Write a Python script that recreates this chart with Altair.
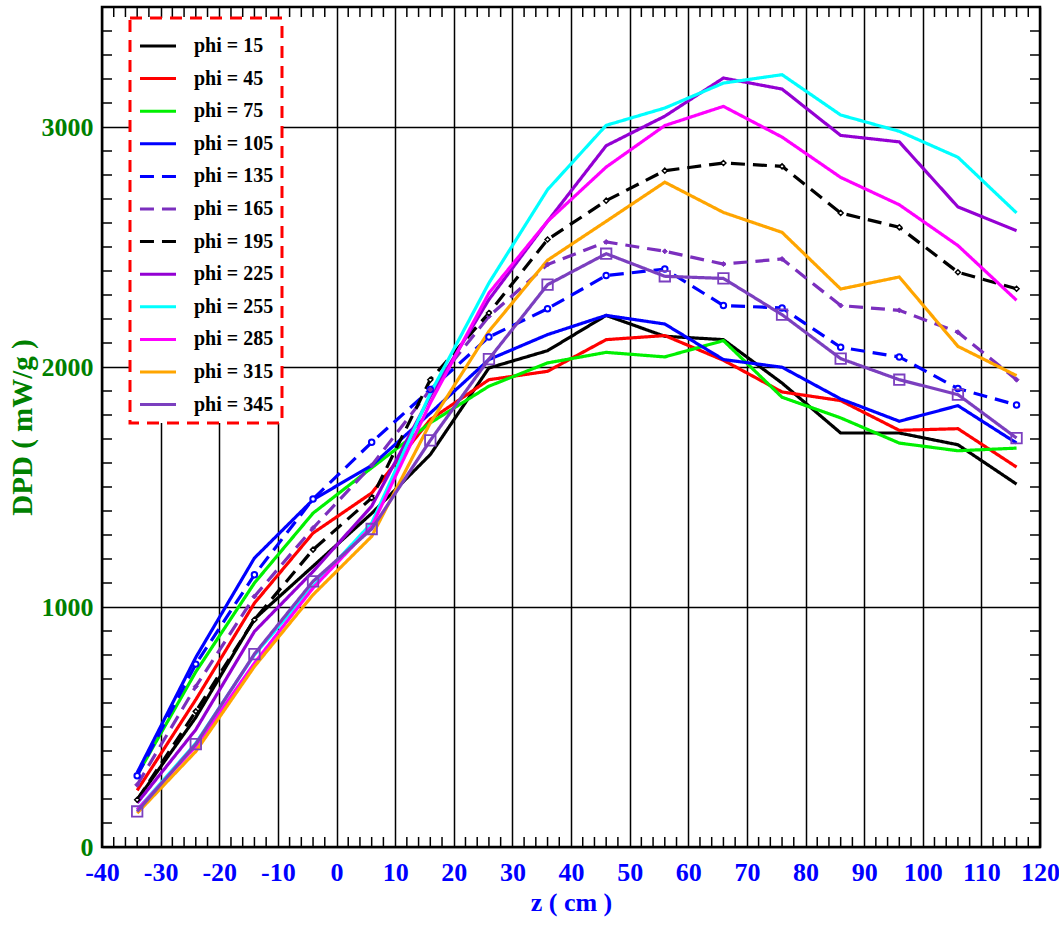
import altair as alt
import pandas as pd

# ---- data ----
z_cm = [-34, -24, -14, -4, 6, 16, 26, 36, 46, 56, 66, 76, 86, 96, 106, 116]

phi_15  = [197, 540, 950, 1170, 1390, 1635, 1996, 2068, 2215, 2128, 2114, 1933, 1725, 1725, 1676, 1512]
phi_45  = [236, 614, 1016, 1308, 1475, 1781, 1947, 1982, 2114, 2131, 2028, 1896, 1860, 1736, 1743, 1583]
phi_75  = [300, 730, 1100, 1391, 1580, 1767, 1920, 2017, 2061, 2042, 2110, 1874, 1788, 1683, 1651, 1662]
phi_105 = [310, 790, 1204, 1447, 1590, 1808, 2031, 2135, 2215, 2179, 2031, 1999, 1867, 1774, 1839, 1683]
phi_135 = [297, 762, 1134, 1450, 1686, 1906, 2125, 2243, 2381, 2408, 2256, 2246, 2082, 2042, 1910, 1842]
phi_165 = [259, 669, 1044, 1329, 1590, 1906, 2211, 2427, 2521, 2482, 2429, 2450, 2256, 2236, 2145, 1947]
phi_195 = [197, 565, 947, 1239, 1454, 1947, 2225, 2531, 2693, 2818, 2850, 2836, 2642, 2582, 2395, 2326]
phi_225 = [183, 489, 898, 1148, 1420, 1878, 2281, 2607, 2922, 3045, 3204, 3158, 2965, 2938, 2667, 2568]
phi_255 = [155, 433, 801, 1086, 1350, 1890, 2350, 2739, 3007, 3079, 3183, 3218, 3050, 2982, 2874, 2642]
phi_285 = [155, 419, 766, 1079, 1336, 1850, 2308, 2607, 2833, 3006, 3086, 2958, 2790, 2676, 2506, 2278]
phi_315 = [141, 398, 752, 1051, 1294, 1767, 2149, 2445, 2607, 2770, 2644, 2561, 2325, 2375, 2086, 1964]
phi_345 = [148, 429, 804, 1107, 1325, 1694, 2033, 2343, 2472, 2378, 2369, 2218, 2035, 1947, 1885, 1704]

series_names = ["phi = 15", "phi = 45", "phi = 75", "phi = 105", "phi = 135", "phi = 165",
                "phi = 195", "phi = 225", "phi = 255", "phi = 285", "phi = 315", "phi = 345"]
series_values = [phi_15, phi_45, phi_75, phi_105, phi_135, phi_165,
                 phi_195, phi_225, phi_255, phi_285, phi_315, phi_345]
series_colors = ["#000000", "#ff0000", "#00f000", "#0000ff", "#0000ff", "#7b2fbe",
                 "#000000", "#9400d3", "#00ffff", "#ff00ff", "#ffa500", "#7b3fbf"]
SOLID = [1, 0]
DASH = [14, 8]
series_dashes = [SOLID, SOLID, SOLID, SOLID, DASH, DASH, DASH, SOLID, SOLID, SOLID, SOLID, SOLID]

x_major = list(range(-40, 121, 10))
x_minor = [v for v in range(-38, 120, 2) if v % 10 != 0]
y_major = [0, 1000, 2000, 3000]
y_minor = [v for v in range(100, 3500, 100) if v % 1000 != 0]

# ---- build table ----
rows = []
for k, (name, vals) in enumerate(zip(series_names, series_values)):
    for zz, v in zip(z_cm, vals):
        rows.append({"z": zz, "dpd": v, "series": name, "k": k})
df = pd.DataFrame(rows)

W, H = 938, 840
FONT = "Liberation Serif"
xs = alt.Scale(domain=[-40, 120], nice=False, zero=False)
ys = alt.Scale(domain=[0, 3500], nice=False, zero=True)

x_axis = alt.Axis(
    values=x_major, title="z ( cm )", labelFont=FONT, labelFontWeight="bold",
    labelFontSize=26, labelColor="#0000ff", ticks=False, domain=False,
    grid=True, gridColor="black", gridWidth=1.5, labelPadding=12,
    labelFlush=False, labelOverlap=False, labelExpr="'' + datum.value",
    titleFont=FONT, titleFontWeight="bold", titleFontSize=26,
    titleColor="#0000ff", titlePadding=4)
y_axis = alt.Axis(
    values=y_major, title="DPD ( mW/g )", labelFont=FONT, labelFontWeight="bold",
    labelFontSize=26, labelColor="#008000", ticks=False, domain=False,
    grid=True, gridColor="black", gridWidth=1.5, labelPadding=9,
    labelFlush=False, labelOverlap=False, labelExpr="'' + datum.value",
    titleFont=FONT, titleFontWeight="bold", titleFontSize=29,
    titleColor="#008000", titlePadding=4)

legend = alt.Legend(title=None, orient="none", legendX=28, legendY=11)

lines = alt.Chart(df).mark_line(strokeWidth=3.2).encode(
    x=alt.X("z:Q", scale=xs, axis=x_axis),
    y=alt.Y("dpd:Q", scale=ys, axis=y_axis),
    color=alt.Color("series:N", scale=alt.Scale(domain=series_names, range=series_colors),
                    legend=legend),
    strokeDash=alt.StrokeDash("series:N", scale=alt.Scale(domain=series_names, range=series_dashes),
                              legend=legend),
    order=alt.Order("z:Q"),
)


def marker_layer(name, color, shape, size, filled, fill, sw):
    d = df[df["series"] == name]
    kw = dict(shape=shape, size=size, color=color, strokeWidth=sw, opacity=1)
    if filled:
        kw.update(filled=True, fill=fill, stroke=color)
    else:
        kw.update(filled=False)
    return alt.Chart(d).mark_point(**kw).encode(
        x=alt.X("z:Q", scale=xs, axis=x_axis),
        y=alt.Y("dpd:Q", scale=ys, axis=y_axis),
    )


m135 = marker_layer("phi = 135", "#0000ff", "circle", 30, True, "white", 2)
m165 = marker_layer("phi = 165", "#7b2fbe", "diamond", 25, True, "#7b2fbe", 1)
m195 = marker_layer("phi = 195", "#000000", "diamond", 25, True, "white", 1.5)
m345 = marker_layer("phi = 345", "#7b3fbf", "square", 110, False, None, 1.8)

xt = pd.DataFrame({"z": x_minor})
yt = pd.DataFrame({"dpd": y_minor})
TL = 10
tick_style = dict(color="black", strokeWidth=1.5)
t_bottom = alt.Chart(xt).mark_rule(**tick_style).encode(
    x=alt.X("z:Q", scale=xs, axis=x_axis), y=alt.value(H), y2=alt.value(H - TL))
t_top = alt.Chart(xt).mark_rule(**tick_style).encode(
    x=alt.X("z:Q", scale=xs, axis=x_axis), y=alt.value(0), y2=alt.value(TL))
t_left = alt.Chart(yt).mark_rule(**tick_style).encode(
    y=alt.Y("dpd:Q", scale=ys, axis=y_axis), x=alt.value(0), x2=alt.value(TL))
t_right = alt.Chart(yt).mark_rule(**tick_style).encode(
    y=alt.Y("dpd:Q", scale=ys, axis=y_axis), x=alt.value(W), x2=alt.value(W - TL))

chart = alt.layer(
    lines, t_bottom, t_top, t_left, t_right, m135, m165, m195, m345
).properties(
    width=W, height=H,
    autosize=alt.AutoSizeParams(type="none"),
    padding={"left": 102, "top": 7, "right": 19, "bottom": 78},
    background="white",
).configure_view(
    stroke="black", strokeWidth=2.5
).configure_legend(
    symbolType="stroke", symbolSize=1300, symbolStrokeWidth=3,
    labelFont=FONT, labelFontWeight="bold", labelFontSize=20, labelColor="black",
    labelOffset=16, rowPadding=2.6, padding=8, labelLimit=300,
    strokeColor="#ff0000", strokeWidth=3, strokeDash=[12, 8], fillColor="white",
)

chart.save("out.html", embed_options={"renderer": "svg", "actions": False})
